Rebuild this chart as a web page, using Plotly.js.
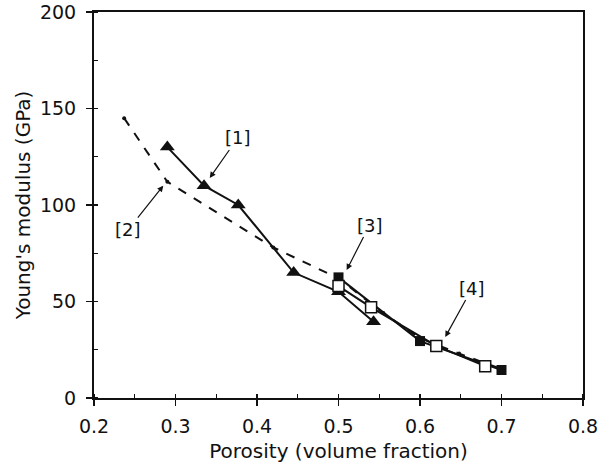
<!DOCTYPE html>
<html><head><meta charset="utf-8">
<script src="https://cdn.plot.ly/plotly-3.0.1.min.js"></script>
<style>html,body{margin:0;padding:0;background:#fff}</style>
</head><body>
<div id="chart" style="width:610px;height:468px"></div>
<script>
// Series [1] solid line, filled triangles
const x1 = [0.29, 0.335, 0.377, 0.445, 0.5, 0.543];
const y1 = [130, 110, 100, 65, 55, 39.5];
// Series [2] dashed line, small dots
const x2 = [0.237, 0.29, 0.42, 0.5, 0.555, 0.6, 0.648, 0.70];
const y2 = [145, 112, 78, 62, 44, 31, 23, 15];
// Series [3] solid line, filled squares
const x3 = [0.5, 0.6, 0.7];
const y3 = [62.5, 29.5, 14.5];
// Series [4] solid line, open squares
const x4 = [0.5, 0.54, 0.62, 0.68];
const y4 = [58, 47, 27, 16.5];
// Labels and the points they point at
const labels = ['[1]', '[2]', '[3]', '[4]'];
const labelX = [0.342, 0.285, 0.510, 0.631];
const labelY = [114, 110, 66.3, 31.6];

const font = {family: 'DejaVu Sans, Liberation Sans, sans-serif', color: '#111'};

const traces = [
  {x: x2, y: y2, mode: 'lines+markers', line: {color: '#111', width: 2, dash: 'dash'},
   marker: {symbol: 'circle', size: 4, color: '#111'}},
  {x: x1, y: y1, mode: 'lines+markers', line: {color: '#111', width: 2},
   marker: {symbol: 'triangle-up', size: 13, color: '#111'}},
  {x: x3, y: y3, mode: 'lines+markers', line: {color: '#111', width: 2},
   marker: {symbol: 'square', size: 10, color: '#111'}},
  {x: x4, y: y4, mode: 'lines+markers', line: {color: '#111', width: 2},
   marker: {symbol: 'square', size: 11, color: '#fff', line: {color: '#111', width: 1.5}}}
];

const offs = [[28, -40], [-35, 44], [23, -45], [27, -49]];
const annotations = labels.map((t, i) => ({
  x: labelX[i], y: labelY[i], xref: 'x', yref: 'y', text: t,
  showarrow: true, arrowhead: 2, arrowsize: 1, arrowwidth: 1.2, arrowcolor: '#111',
  ax: offs[i][0], ay: offs[i][1],
  font: Object.assign({size: 18}, font)
}));

const axisCommon = {
  showgrid: false, zeroline: false, showline: true, linecolor: '#111', linewidth: 2,
  mirror: true, ticks: 'outside', ticklen: 6, tickwidth: 1.5, tickcolor: '#111',
  tickfont: Object.assign({size: 19}, font)
};

const layout = {
  width: 610, height: 468, showlegend: false,
  paper_bgcolor: '#fff', plot_bgcolor: '#fff',
  margin: {l: 94, r: 27, t: 12, b: 70},
  xaxis: Object.assign({}, axisCommon, {
    range: [0.2, 0.8], dtick: 0.1, tickformat: '.1f', ticklabelstandoff: 4,
    minor: {dtick: 0.05, ticks: 'inside', ticklen: 4, tickcolor: '#111', tickwidth: 1.2},
    title: {text: 'Porosity (volume fraction)', font: Object.assign({size: 20}, font), standoff: 8}
  }),
  yaxis: Object.assign({}, axisCommon, {
    range: [0, 200], dtick: 50, ticklabelstandoff: 6,
    minor: {dtick: 25, ticks: 'inside', ticklen: 4, tickcolor: '#111', tickwidth: 1.2},
    title: {text: "Young's modulus (GPa)", font: Object.assign({size: 20}, font), standoff: 4}
  }),
  annotations: annotations
};

Plotly.newPlot('chart', traces, layout, {displayModeBar: false, staticPlot: true});
</script>
</body></html>
